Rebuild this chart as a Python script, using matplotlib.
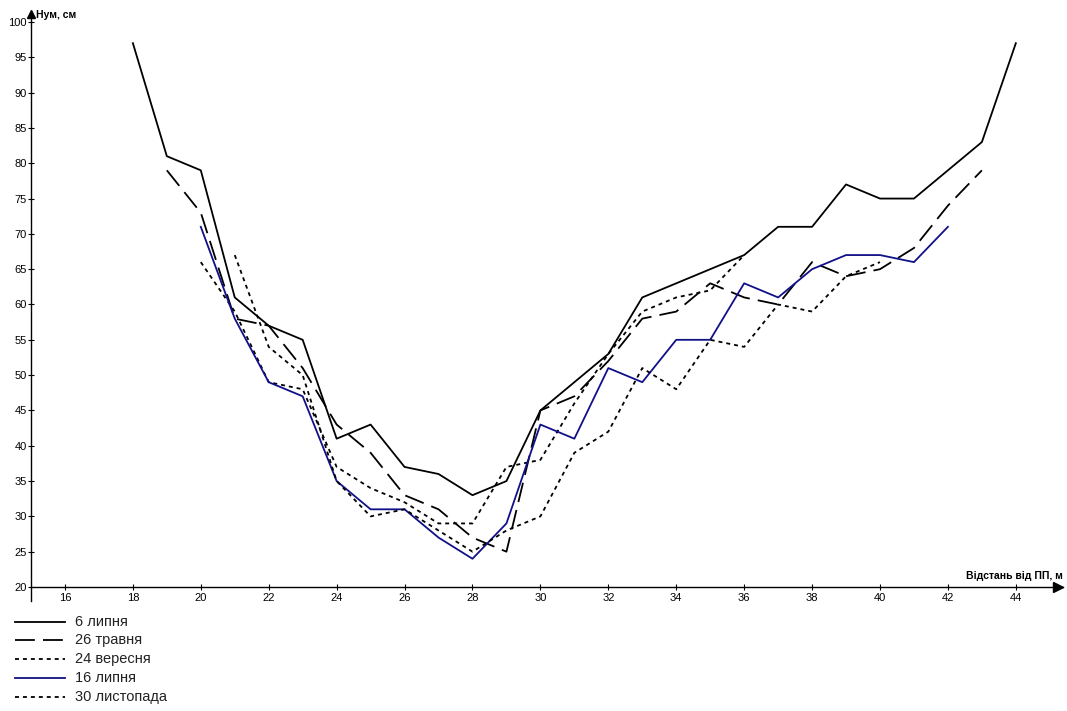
import matplotlib
matplotlib.use("Agg")
import matplotlib.pyplot as plt
from matplotlib.lines import Line2D

plt.rcParams['font.family'] = ['Liberation Sans', 'DejaVu Sans']

# ---------------- data ----------------
x_6lyp = list(range(18, 45))
y_6lyp = [97, 81, 79, 61, 57, 55, 41, 43, 37, 36, 33, 35, 45, 49, 53, 61, 63, 65,
          67, 71, 71, 77, 75, 75, 79, 83, 97]

x_26trav = list(range(19, 44))
y_26trav = [79, 73, 58, 57, 51, 43, 39, 33, 31, 27, 25, 45, 47, 52, 58, 59, 63, 61,
            60, 66, 64, 65, 68, 74, 79]

x_24ver = list(range(20, 37))
y_24ver = [66, 59, 49, 48, 37, 34, 32, 29, 29, 37, 38, 46, 53, 59, 61, 62, 67]

x_16lyp = list(range(20, 43))
y_16lyp = [71, 58, 49, 47, 35, 31, 31, 27, 24, 29, 43, 41, 51, 49, 55, 55, 63, 61,
           65, 67, 67, 66, 71]

x_30lyst = list(range(21, 41))
y_30lyst = [67, 54, 50, 35, 30, 31, 28, 25, 28, 30, 39, 42, 51, 48, 55, 54, 60, 59,
            64, 66]

labels = ["6 липня", "26 травня", "24 вересня", "16 липня", "30 листопада"]
x_ticks = list(range(16, 45, 2))
y_ticks = list(range(20, 101, 5))

# ---------------- figure ----------------
W, H = 1067, 711
fig = plt.figure(figsize=(W / 100, H / 100), dpi=100)
fig.patch.set_facecolor("white")

ax_l, ax_r, ax_t, ax_b = 31, 1063, 11.4, 601
ax = fig.add_axes([ax_l / W, 1 - ax_b / H, (ax_r - ax_l) / W, (ax_b - ax_t) / H])
ax.set_facecolor("white")

xpx = 33.96   # pixels per x-unit
ypx = 7.0625  # pixels per y-unit
ax.set_xlim(15.0, 15.0 + (ax_r - ax_l) / xpx)
ax.set_ylim(20 - (ax_b - 587) / ypx, 20 + (587 - ax_t) / ypx)

lw = 1.3
styles = [
    dict(color="black", linestyle="-"),
    dict(color="black", linestyle=(0, (11, 4.5))),
    dict(color="black", linestyle=(0, (2.2, 2.2))),
    dict(color="#101088", linestyle="-"),
    dict(color="black", linestyle=(0, (2.2, 2.2))),
]
series = [(x_6lyp, y_6lyp), (x_26trav, y_26trav), (x_24ver, y_24ver),
          (x_16lyp, y_16lyp), (x_30lyst, y_30lyst)]

for (xs, ys), st in zip(series, styles):
    ax.plot(xs, ys, lw=lw, **st)

# axes styling
for s in ["top", "right"]:
    ax.spines[s].set_visible(False)
ax.spines["bottom"].set_position(("data", 20))
ax.spines["bottom"].set_linewidth(1.0)
ax.spines["left"].set_linewidth(1.0)

ax.set_xticks(x_ticks)
ax.set_yticks(y_ticks)
ax.tick_params(axis="both", direction="inout", length=5, width=0.8,
               labelsize=8, colors="black")
ax.tick_params(axis="x", pad=2)
ax.tick_params(axis="y", pad=0.5)

# arrows
ax.plot([ax.get_xlim()[1] - 0.15], [20], marker=">", color="black",
        markersize=7, clip_on=False)
ax.plot([15.0], [100 + (22 - 14) / ypx], marker="^", color="black",
        markersize=6, clip_on=False)

# axis titles
fig.text(36 / W, 1 - 15 / H, "Нум, см", fontsize=7.5, fontweight="bold",
         ha="left", va="center")
fig.text(1063 / W, 1 - 576 / H, "Відстань від ПП, м", fontsize=7.5,
         fontweight="bold", ha="right", va="center")

# legend (manual)
leg_y = [621.5, 640.3, 659.0, 677.8, 696.6]
for lab, st, yy in zip(labels, styles, leg_y):
    fy = 1 - yy / H
    fig.add_artist(Line2D([15 / W, 65 / W], [fy, fy], transform=fig.transFigure,
                          lw=lw, **st))
    fig.text(75 / W, fy, lab, fontsize=10.5, ha="left", va="center",
             color="#222222")

fig.savefig("out.png", dpi=100, facecolor="white")
